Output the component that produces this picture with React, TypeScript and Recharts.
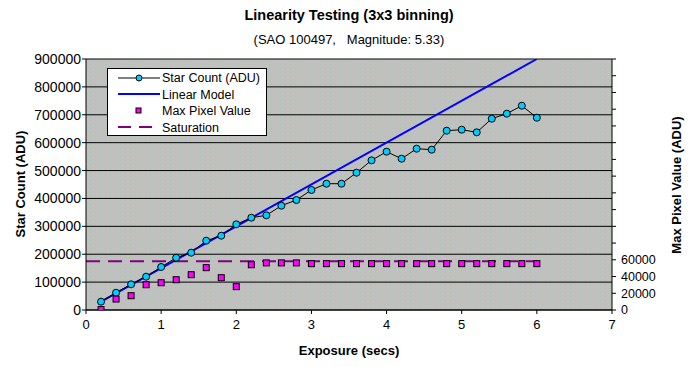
import React from 'react';
import {
    ComposedChart,
    Line,
    Scatter,
    XAxis,
    YAxis,
    CartesianGrid
} from 'recharts';

// exposure times (secs)
const exposures = [0.2, 0.4, 0.6, 0.8, 1.0, 1.2, 1.4, 1.6, 1.8, 2.0, 2.2, 2.4, 2.6, 2.8, 3.0, 3.2, 3.4, 3.6, 3.8, 4.0, 4.2, 4.4, 4.6, 4.8, 5.0, 5.2, 5.4, 5.6, 5.8, 6.0];

// star count (ADU), left axis
const starCounts = [29800, 62000, 92100, 119400, 154200, 187500, 205400, 248500, 266400, 307300, 331000, 339500, 374000, 394400, 430300, 452900, 452900, 492300, 536700, 567600, 542500, 578400, 574800, 643000, 646500, 637100, 686000, 704000, 732500, 689500];

// max pixel value (ADU), right axis
const maxPixels = [500, 13100, 17100, 30200, 32600, 36200, 42200, 50600, 38600, 27900, 54100, 56300, 56300, 56300, 55400, 55400, 55400, 55400, 55400, 55400, 55400, 55400, 55400, 55400, 55400, 55400, 55400, 55400, 55400, 55400];

// linear model end points
const modelX = [0.2, 6.0];
const modelY = [30000, 900000];

// saturation level
const saturationX = [0, 6];
const saturationY = [175000, 175000];

const xTicks = [0, 1, 2, 3, 4, 5, 6, 7];
const leftTicks = [0, 100000, 200000, 300000, 400000, 500000, 600000, 700000, 800000, 900000];
const rightTicks = [0, 20000, 40000, 60000, 80000, 100000, 120000, 140000, 160000, 180000, 200000, 220000, 240000, 260000, 280000, 300000];

const starData = exposures.map((x, i) => ({ x, y: starCounts[i] }));
const pixelData = exposures.map((x, i) => ({ x, y: maxPixels[i] }));
const modelData = modelX.map((x, i) => ({ x, y: modelY[i] }));
const saturationData = saturationX.map((x, i) => ({ x, y: saturationY[i] }));

const FONT = '"Liberation Sans", Arial, sans-serif';

const StarDot = (props: any) => {
    const { cx, cy } = props;
    if (cx == null || cy == null) return null;
    return <circle cx={cx} cy={cy} r={3.5} fill="#00CCFF" stroke="#000" strokeWidth={1} />;
};

const PixelSquare = (props: any) => {
    const { cx, cy } = props;
    if (cx == null || cy == null) return null;
    return <rect x={cx - 3} y={cy - 3} width={6} height={6} fill="#FF00FF" stroke="#000" strokeWidth={1} />;
};

const legendItems = ['Star Count (ADU)', 'Linear Model', 'Max Pixel Value', 'Saturation'];

function LegendBox() {
    return (
        <div style={{
            position: 'absolute', left: 107, top: 68, width: 160, height: 68,
            background: '#fff', border: '1px solid #000', boxSizing: 'border-box',
            fontFamily: FONT, fontSize: 12.5, color: '#000'
        }}>
            <svg width={160} height={68} style={{ position: 'absolute', left: 0, top: 0 }}>
                <line x1={10} y1={9} x2={52} y2={9} stroke="#000" strokeWidth={1} />
                <circle cx={31} cy={9} r={3} fill="#00CCFF" stroke="#000" />
                <line x1={10} y1={25} x2={52} y2={25} stroke="#0000FF" strokeWidth={2} />
                <rect x={28} y={39} width={5} height={5} fill="#FF00FF" stroke="#000" />
                <line x1={10} y1={58} x2={52} y2={58} stroke="#800080" strokeWidth={2} strokeDasharray="13 8" />
            </svg>
            {legendItems.map((t, i) => (
                <div key={t} style={{ position: 'absolute', left: 54, top: 1 + i * 16.5, lineHeight: '16px', whiteSpace: 'nowrap' }}>{t}</div>
            ))}
        </div>
    );
}

export default function App() {
    return (
        <div style={{ position: 'absolute', left: 0, top: 0, width: 692, height: 367, background: '#fff', fontFamily: FONT }}>
            <svg width={0} height={0} style={{ position: 'absolute' }}>
                <defs>
                    <pattern id="dots" width={5} height={4} patternUnits="userSpaceOnUse">
                        <rect width={5} height={4} fill="#C0C0C0" />
                        <rect x={0} y={0} width={1} height={1} fill="#A8C8A8" />
                    </pattern>
                </defs>
            </svg>
            <div style={{ position: 'absolute', left: 0, width: 698, top: 7, textAlign: 'center', fontSize: 14.5, fontWeight: 'bold' }}>
                Linearity Testing (3x3 binning)
            </div>
            <div style={{ position: 'absolute', left: 0, width: 698, top: 32, textAlign: 'center', fontSize: 13, whiteSpace: 'pre' }}>
                {'(SAO 100497,   Magnitude: 5.33)'}
            </div>
            <ComposedChart width={692} height={367} margin={{ top: 59, right: 0, left: 0, bottom: 0 }}>
                <CartesianGrid vertical={false} stroke="#000" fill="url(#dots)" yAxisId="left" />
                <XAxis
                    dataKey="x"
                    type="number"
                    domain={[0, 7]}
                    ticks={xTicks}
                    interval={0}
                    height={57}
                    stroke="#000"
                    tickSize={4}
                    tick={{ fill: '#000', fontSize: 13, fontFamily: FONT }}
                    tickMargin={6}
                />
                <YAxis
                    yAxisId="left"
                    type="number"
                    domain={[0, 900000]}
                    ticks={leftTicks}
                    interval={0}
                    allowDataOverflow
                    width={86}
                    stroke="#000"
                    tickSize={4}
                    tickMargin={1}
                    tick={{ fill: '#000', fontSize: 14, fontFamily: FONT }}
                />
                <YAxis
                    yAxisId="right"
                    orientation="right"
                    type="number"
                    domain={[0, 300000]}
                    ticks={rightTicks}
                    interval={0}
                    allowDataOverflow
                    width={80}
                    stroke="#000"
                    tickSize={4}
                    tickMargin={5}
                    tick={{ fill: '#000', fontSize: 12.5, fontFamily: FONT }}
                    tickFormatter={(v: number) => (v <= 60000 ? String(v) : '')}
                />
                <Line
                    yAxisId="left"
                    data={saturationData}
                    dataKey="y"
                    stroke="#800080"
                    strokeWidth={2}
                    strokeDasharray="14 8"
                    dot={false}
                    isAnimationActive={false}
                />
                <Line
                    yAxisId="left"
                    data={modelData}
                    dataKey="y"
                    stroke="#0000FF"
                    strokeWidth={2}
                    dot={false}
                    isAnimationActive={false}
                />
                <Line
                    yAxisId="left"
                    data={starData}
                    dataKey="y"
                    stroke="#000"
                    strokeWidth={1}
                    dot={<StarDot />}
                    isAnimationActive={false}
                />
                <Scatter
                    yAxisId="right"
                    data={pixelData}
                    dataKey="y"
                    shape={<PixelSquare />}
                    isAnimationActive={false}
                />
            </ComposedChart>
            <LegendBox />
            <div style={{ position: 'absolute', left: 0, width: 698, top: 343, textAlign: 'center', fontSize: 13, fontWeight: 'bold' }}>
                Exposure (secs)
            </div>
            <div style={{ position: 'absolute', left: 20, top: 184, width: 0, height: 0 }}>
                <div style={{ position: 'absolute', transform: 'translate(-50%, -50%) rotate(-90deg)', whiteSpace: 'nowrap', fontSize: 13, fontWeight: 'bold' }}>
                    Star Count (ADU)
                </div>
            </div>
            <div style={{ position: 'absolute', left: 676, top: 185, width: 0, height: 0 }}>
                <div style={{ position: 'absolute', transform: 'translate(-50%, -50%) rotate(-90deg)', whiteSpace: 'nowrap', fontSize: 13, fontWeight: 'bold' }}>
                    Max Pixel Value (ADU)
                </div>
            </div>
        </div>
    );
}
